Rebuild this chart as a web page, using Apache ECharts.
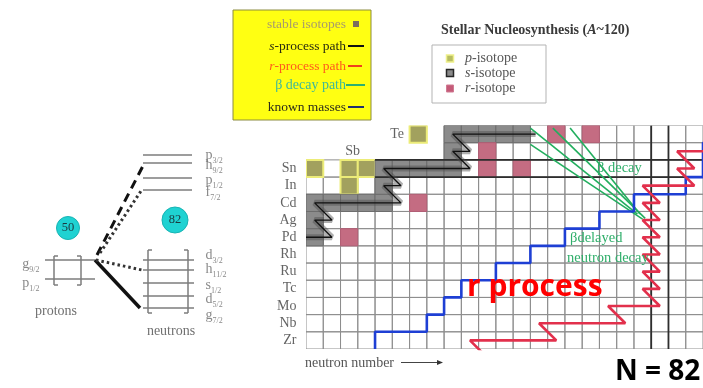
<!DOCTYPE html>
<html>
<head>
<meta charset="utf-8">
<script src="https://cdn.jsdelivr.net/npm/echarts@6/dist/echarts.min.js"></script>
<style>
  html, body { margin: 0; padding: 0; background: #ffffff; }
  #chart { width: 703px; height: 388px; }
</style>
</head>
<body>
<div id="chart"></div>
<script>
// ---------------- nuclide chart (N horizontal, Z vertical) ----------------
const elementZ = [40, 41, 42, 43, 44, 45, 46, 47, 48, 49, 50];
const elementSymbols = ['Zr', 'Nb', 'Mo', 'Tc', 'Ru', 'Rh', 'Pd', 'Ag', 'Cd', 'In', 'Sn'];

// grid blocks of the chart: [Zmin, Zmax, Nmin, Nmax]
const chartBlocks = [[40, 50, 62, 84], [51, 52, 70, 84]];

// isotopes as [N, Z]
const pIsotopes = [[62, 50], [64, 50], [65, 50], [64, 49], [68, 52]];
const sIsotopes = [[62, 46], [62, 47], [62, 48], [63, 48], [64, 48], [65, 48], [66, 48],
                   [66, 49], [66, 50], [67, 50], [68, 50], [69, 50], [70, 50],
                   [70, 51], [70, 52], [71, 52], [72, 52], [73, 52], [74, 52]];
const rIsotopes = [[64, 46], [68, 48], [72, 50], [74, 50], [72, 51], [76, 52], [78, 52]];

// reaction paths as [N, Z] vertices
const sProcessPath = [[61.5, 46], [63, 46], [62, 47], [63, 47], [62, 48], [67, 48], [66, 49], [67, 49],
                      [66, 50], [71, 50], [70, 51], [71, 51], [70, 52], [74.8, 52]];
const rProcessPath = [[72, 39], [71, 40], [76, 40], [75, 41], [80, 41], [79, 42], [82, 42],
                      [81, 43], [82, 43], [81, 44], [82, 44], [81, 45], [82, 45], [81, 46], [82, 46],
                      [81, 47], [82, 47], [81, 48], [82, 48], [81, 49], [84, 49], [83, 50], [84, 50],
                      [83, 51], [85.5, 51]];
const knownMassEdge = [[65.5, 39.5], [65.5, 40.5], [68.5, 40.5], [68.5, 41.5], [69.5, 41.5], [69.5, 42.5],
                       [70.5, 42.5], [70.5, 43.5], [72.5, 43.5], [72.5, 44.5], [74.5, 44.5], [74.5, 45.5],
                       [76.5, 45.5], [76.5, 46.5], [78.5, 46.5], [78.5, 47.5], [80.5, 47.5], [80.5, 48.5],
                       [83.5, 48.5], [83.5, 49.5], [84.5, 49.5], [84.5, 51.5], [85.5, 51.5]];
// beta-decay chains: [N0, Z0, N1, Z1]
const betaDecayPaths = [[74.5, 52.35, 80.7, 47.35], [74.5, 51.4, 81.0, 47.05],
                        [75.8, 52.35, 81.15, 47.1], [76.8, 52.35, 80.85, 47.35]];
// closed shells: N = 82 column and Z = 50 row
const magicN = 82;
const magicZ = 50;

// ---------------- shell-model levels ----------------
const protonOrbitals = ['g9/2', 'p1/2'];
const protonLevelE = [128, 109];
const neutronOrbitalsLow = ['d3/2', 'h11/2', 's1/2', 'd5/2', 'g7/2'];
const neutronLevelELow = [128, 118, 105, 92, 80];
const neutronOrbitalsHigh = ['p3/2', 'h9/2', 'p1/2', 'f7/2'];
const neutronLevelEHigh = [233, 225, 210, 198];

const SERIF = '"Liberation Serif", "DejaVu Serif", serif';
const SANS = '"Open Sans", "Liberation Sans", sans-serif';

// ---------- helpers ----------
function cellRenderer(style) {
  return function (params, api) {
    const a = api.coord([api.value(0) - 0.5, api.value(1) + 0.5]);
    const b = api.coord([api.value(0) + 0.5, api.value(1) - 0.5]);
    return {
      type: 'rect',
      shape: { x: a[0], y: a[1], width: b[0] - a[0], height: b[1] - a[1] },
      style: Object.assign({}, style)
    };
  };
}
function segmentRenderer(styleFor) {
  return function (params, api) {
    const a = api.coord([api.value(0), api.value(1)]);
    const b = api.coord([api.value(2), api.value(3)]);
    return {
      type: 'line',
      shape: { x1: a[0], y1: a[1], x2: b[0], y2: b[1] },
      style: styleFor(params.dataIndex)
    };
  };
}

// expand grid blocks into individual cells
const gridCells = [];
chartBlocks.forEach(function (b) {
  for (let z = b[0]; z <= b[1]; z++) {
    for (let n = b[2]; n <= b[3]; n++) gridCells.push([n, z]);
  }
});

// closed-shell boundary lines
const magicLines = [
  [magicN - 0.5, 39.5, magicN - 0.5, 52.5],
  [magicN + 0.5, 39.5, magicN + 0.5, 52.5],
  [65.5, magicZ - 0.5, 84.5, magicZ - 0.5],
  [65.5, magicZ + 0.5, 84.5, magicZ + 0.5]
];

// level segments in the shell diagram
const protonSpan = [45, 95];
const neutronSpan = [143, 194];
const levelSegments = [];
protonLevelE.forEach(function (e) { levelSegments.push([protonSpan[0], e, protonSpan[1], e]); });
neutronLevelELow.forEach(function (e) { levelSegments.push([neutronSpan[0], e, neutronSpan[1], e]); });
neutronLevelEHigh.forEach(function (e) { levelSegments.push([neutronSpan[0], e, neutronSpan[1] - 2, e]); });

// lines from the proton g9/2 level out to the neutron orbitals
const connectors = [
  [95, protonLevelE[0], 140, neutronLevelELow[4]],
  [96, protonLevelE[0], 142, neutronLevelELow[1]],
  [97, protonLevelE[0] + 5, 145, neutronLevelEHigh[1] + 1],
  [100, protonLevelE[0] + 7, 141, neutronLevelEHigh[3] - 1]
];
const connectorStyles = [
  { stroke: '#111', lineWidth: 3.5 },
  { stroke: '#333', lineWidth: 3, lineDash: [2.5, 3] },
  { stroke: '#111', lineWidth: 3, lineDash: [9, 6] },
  { stroke: '#333', lineWidth: 3, lineDash: [2.5, 3] }
];

// square brackets around the filled shells
const brackets = [
  [54, 81, 132, 103],
  [148, 188, 138, 75]
];
const bracketSegments = [];
brackets.forEach(function (b) {
  bracketSegments.push([b[0], b[2], b[0], b[3]]);
  bracketSegments.push([b[0], b[2], b[0] + 4, b[2]]);
  bracketSegments.push([b[0], b[3], b[0] + 4, b[3]]);
  bracketSegments.push([b[1], b[2], b[1], b[3]]);
  bracketSegments.push([b[1], b[2], b[1] - 4, b[2]]);
  bracketSegments.push([b[1], b[3], b[1] - 4, b[3]]);
});

function orbitalLabel(name) {
  const m = name.match(/^([a-z])(.*)$/);
  return '{m|' + m[1] + '}{s|' + m[2] + '}';
}
const orbitalRich = {
  m: { fontFamily: SERIF, fontSize: 14, color: '#6a6a6a', lineHeight: 14, verticalAlign: 'bottom' },
  s: { fontFamily: SERIF, fontSize: 8, color: '#6a6a6a', lineHeight: 14, verticalAlign: 'bottom', padding: [0, 0, -3, 0] }
};

const levelLabelData = [];
protonOrbitals.forEach(function (o, i) {
  levelLabelData.push({ value: [41, protonLevelE[i] - 4], name: o, label: { position: 'left' } });
});
const lowOffsets = [5, 1, -2, -3, -7];
neutronOrbitalsLow.forEach(function (o, i) {
  levelLabelData.push({ value: [204, neutronLevelELow[i] + lowOffsets[i]], name: o, label: { position: 'right' } });
});
const highOffsets = [0, -2, -2, -2];
neutronOrbitalsHigh.forEach(function (o, i) {
  levelLabelData.push({ value: [204, neutronLevelEHigh[i] + highOffsets[i]], name: o, label: { position: 'right' } });
});

function italicRich(size, color) {
  return { i: { fontStyle: 'italic', fontFamily: SERIF, fontSize: size, fill: color } };
}

const chart = echarts.init(document.getElementById('chart'), null, { renderer: 'canvas' });

const option = {
  animation: false,
  backgroundColor: '#ffffff',
  title: {
    text: 'Stellar Nucleosynthesis ({i|A}~120)',
    left: 436,
    top: 18,
    textStyle: {
      fontFamily: SERIF, fontWeight: 'bold', fontSize: 14, color: '#3a3a3a',
      rich: { i: { fontFamily: SERIF, fontWeight: 'bold', fontStyle: 'italic', fontSize: 14, color: '#3a3a3a' } }
    }
  },
  grid: [
    { left: 306, right: 0, top: 125.5, bottom: 39 },
    { left: 0, top: 0, width: 250, height: 388 }
  ],
  xAxis: [
    { gridIndex: 0, type: 'value', min: 61.5, max: 84.5, show: false },
    { gridIndex: 1, type: 'value', min: 0, max: 250, show: false }
  ],
  yAxis: [
    { gridIndex: 0, type: 'value', min: 39.5, max: 52.5, show: false },
    { gridIndex: 1, type: 'value', min: 0, max: 388, show: false }
  ],
  series: [
    // chart cells
    { type: 'custom', xAxisIndex: 0, yAxisIndex: 0, clip: true, data: gridCells,
      renderItem: cellRenderer({ fill: null, stroke: '#8e8e8e', lineWidth: 1 }) },
    { type: 'custom', xAxisIndex: 0, yAxisIndex: 0, clip: true, data: pIsotopes,
      renderItem: cellRenderer({ fill: '#a2a15e', stroke: '#ecec78', lineWidth: 2 }) },
    { type: 'custom', xAxisIndex: 0, yAxisIndex: 0, clip: true, data: sIsotopes,
      renderItem: cellRenderer({ fill: '#8b8b8b', stroke: '#6c6c6c', lineWidth: 1 }) },
    { type: 'custom', xAxisIndex: 0, yAxisIndex: 0, clip: true, data: rIsotopes,
      renderItem: cellRenderer({ fill: '#c46c82', stroke: '#b25e74', lineWidth: 1 }) },
    // s-process band and path
    { type: 'line', xAxisIndex: 0, yAxisIndex: 0, data: sProcessPath, symbol: 'none',
      lineStyle: { color: '#4e4e4e', width: 6, opacity: 0.45 }, z: 3 },
    // closed-shell boundaries
    { type: 'custom', xAxisIndex: 0, yAxisIndex: 0, clip: true, data: magicLines, z: 3,
      renderItem: segmentRenderer(function () { return { stroke: '#2e2e2e', lineWidth: 1.8 }; }) },
    { type: 'line', xAxisIndex: 0, yAxisIndex: 0, data: sProcessPath, symbol: 'none',
      lineStyle: { color: '#111', width: 1.3 }, z: 4 },
    // limit of known masses
    { type: 'line', xAxisIndex: 0, yAxisIndex: 0, data: knownMassEdge, symbol: 'none',
      lineStyle: { color: '#1e3fd4', width: 2.6 }, z: 4 },
    // beta-decay chains
    { type: 'custom', xAxisIndex: 0, yAxisIndex: 0, clip: true, data: betaDecayPaths, z: 4,
      renderItem: segmentRenderer(function () { return { stroke: '#22ae5e', lineWidth: 1.6 }; }) },
    // r-process path
    { type: 'line', xAxisIndex: 0, yAxisIndex: 0, data: rProcessPath, symbol: 'none',
      lineStyle: { color: '#e2304c', width: 2.6 }, z: 5 },
    // element labels
    { type: 'scatter', xAxisIndex: 0, yAxisIndex: 0, symbolSize: 1, itemStyle: { color: 'rgba(0,0,0,0)' },
      data: elementZ.map(function (z, i) { return { value: [61.5, z], name: elementSymbols[i] }; }),
      label: { show: true, position: 'left', distance: 9, formatter: '{b}',
               fontFamily: SERIF, fontSize: 14, color: '#3c3c3c' }, z: 6 },
    { type: 'scatter', xAxisIndex: 0, yAxisIndex: 0, symbolSize: 1, itemStyle: { color: 'rgba(0,0,0,0)' },
      data: [{ value: [67.5, 52], name: 'Te', label: { position: 'left', distance: 5 } },
             { value: [64.2, 51], name: 'Sb', label: { position: 'inside' } }],
      label: { show: true, formatter: '{b}', fontFamily: SERIF, fontSize: 14, color: '#3c3c3c' }, z: 6 },

    // ---- shell diagram ----
    { type: 'custom', xAxisIndex: 1, yAxisIndex: 1, data: levelSegments,
      renderItem: segmentRenderer(function () { return { stroke: '#7c7c7c', lineWidth: 1.7 }; }) },
    { type: 'custom', xAxisIndex: 1, yAxisIndex: 1, data: bracketSegments,
      renderItem: segmentRenderer(function () { return { stroke: '#7c7c7c', lineWidth: 1.5 }; }) },
    { type: 'custom', xAxisIndex: 1, yAxisIndex: 1, data: connectors, z: 3,
      renderItem: segmentRenderer(function (i) { return Object.assign({}, connectorStyles[i]); }) },
    { type: 'scatter', xAxisIndex: 1, yAxisIndex: 1, symbolSize: 1, itemStyle: { color: 'rgba(0,0,0,0)' },
      data: levelLabelData,
      label: { show: true, distance: 1, formatter: function (p) { return orbitalLabel(p.name); }, rich: orbitalRich } }
  ],
  graphic: [
    // magic-number badges
    { type: 'circle', shape: { cx: 68, cy: 228, r: 11.5 }, style: { fill: '#1fd2d2', stroke: '#17b4b4', lineWidth: 1 } },
    { type: 'text', style: { x: 68, y: 228, text: '50', align: 'center', verticalAlign: 'middle', font: '12.5px ' + SERIF, fill: '#1b3a40' } },
    { type: 'circle', shape: { cx: 175, cy: 220, r: 13 }, style: { fill: '#1fd2d2', stroke: '#17b4b4', lineWidth: 1 } },
    { type: 'text', style: { x: 175, y: 220, text: '82', align: 'center', verticalAlign: 'middle', font: '12.5px ' + SERIF, fill: '#1b3a40' } },
    { type: 'text', style: { x: 56, y: 311, text: 'protons', align: 'center', verticalAlign: 'middle', font: '14px ' + SERIF, fill: '#707070' } },
    { type: 'text', style: { x: 171, y: 331, text: 'neutrons', align: 'center', verticalAlign: 'middle', font: '14px ' + SERIF, fill: '#707070' } },

    // path legend
    { type: 'rect', shape: { x: 233, y: 10, width: 138, height: 110 }, style: { fill: '#ffff12', stroke: '#8c8c40', lineWidth: 1 } },
    { type: 'text', style: { x: 346, y: 24, text: 'stable isotopes', align: 'right', verticalAlign: 'middle', font: '13.5px ' + SERIF, fill: '#a79a6c' } },
    { type: 'rect', shape: { x: 353, y: 21, width: 6, height: 6 }, style: { fill: '#7a6c5e' } },
    { type: 'text', style: { x: 346, y: 46, text: '{i|s}-process path', align: 'right', verticalAlign: 'middle', font: '13.5px ' + SERIF, fill: '#2a2a10',
                             rich: italicRich(13.5, '#2a2a10') } },
    { type: 'line', shape: { x1: 348, y1: 46, x2: 364, y2: 46 }, style: { stroke: '#111', lineWidth: 2 } },
    { type: 'text', style: { x: 346, y: 66, text: '{i|r}-process path', align: 'right', verticalAlign: 'middle', font: '13.5px ' + SERIF, fill: '#ff5a1c',
                             rich: italicRich(13.5, '#ff5a1c') } },
    { type: 'line', shape: { x1: 348, y1: 66, x2: 362, y2: 66 }, style: { stroke: '#f0401c', lineWidth: 2 } },
    { type: 'text', style: { x: 346, y: 85, text: 'β decay path', align: 'right', verticalAlign: 'middle', font: '14px ' + SERIF, fill: '#3cb89c' } },
    { type: 'line', shape: { x1: 346, y1: 85, x2: 365, y2: 85 }, style: { stroke: '#2cb070', lineWidth: 2 } },
    { type: 'text', style: { x: 346, y: 107, text: 'known masses', align: 'right', verticalAlign: 'middle', font: '13.5px ' + SERIF, fill: '#2c2c1c' } },
    { type: 'line', shape: { x1: 348, y1: 107, x2: 364, y2: 107 }, style: { stroke: '#203070', lineWidth: 2 } },

    // isotope legend
    { type: 'rect', shape: { x: 432, y: 45, width: 114, height: 58 }, style: { fill: '#ffffff', stroke: '#b3b3b3', lineWidth: 1 } },
    { type: 'rect', shape: { x: 446.5, y: 55, width: 7, height: 7 }, style: { fill: '#b7bd62', stroke: '#eef08a', lineWidth: 1.5 } },
    { type: 'rect', shape: { x: 446.5, y: 69.5, width: 7, height: 7 }, style: { fill: '#8a8a8a', stroke: '#262626', lineWidth: 1.5 } },
    { type: 'rect', shape: { x: 446.5, y: 85, width: 7, height: 7 }, style: { fill: '#c45a78', stroke: '#d07a92', lineWidth: 1 } },
    { type: 'text', style: { x: 465, y: 58, text: '{i|p}-isotope', verticalAlign: 'middle', font: '14px ' + SERIF, fill: '#555',
                             rich: italicRich(14, '#555') } },
    { type: 'text', style: { x: 465, y: 73, text: '{i|s}-isotope', verticalAlign: 'middle', font: '14px ' + SERIF, fill: '#555',
                             rich: italicRich(14, '#555') } },
    { type: 'text', style: { x: 465, y: 88.5, text: '{i|r}-isotope', verticalAlign: 'middle', font: '14px ' + SERIF, fill: '#555',
                             rich: italicRich(14, '#555') } },

    // axis caption
    { type: 'text', style: { x: 305, y: 363, text: 'neutron number', verticalAlign: 'middle', font: '14px ' + SERIF, fill: '#555' } },
    { type: 'line', shape: { x1: 401, y1: 362.5, x2: 440, y2: 362.5 }, style: { stroke: '#444', lineWidth: 1.2 } },
    { type: 'polygon', shape: { points: [[443, 362.5], [437, 360], [437, 365]] }, style: { fill: '#333' } },

    // annotations
    { type: 'text', z: 20, style: { x: 597, y: 168, text: 'β decay', verticalAlign: 'middle', font: '14.5px ' + SERIF, fill: '#2fae6a' } },
    { type: 'text', z: 20, style: { x: 570, y: 238, text: 'βdelayed', verticalAlign: 'middle', font: '14.5px ' + SERIF, fill: '#2fae6a' } },
    { type: 'text', z: 20, style: { x: 567, y: 258, text: 'neutron decay', verticalAlign: 'middle', font: '14.5px ' + SERIF, fill: '#2fae6a' } },
    { type: 'text', z: 30, style: { x: 467, y: 287, text: 'r process', verticalAlign: 'middle', font: 'bold 30px ' + SANS, fill: '#ff0000' } },
    { type: 'text', z: 30, style: { x: 615, y: 372, text: 'N = 82', verticalAlign: 'middle', font: 'bold 28px ' + SANS, fill: '#000000' } }
  ]
};

chart.setOption(option);
</script>
</body>
</html>
